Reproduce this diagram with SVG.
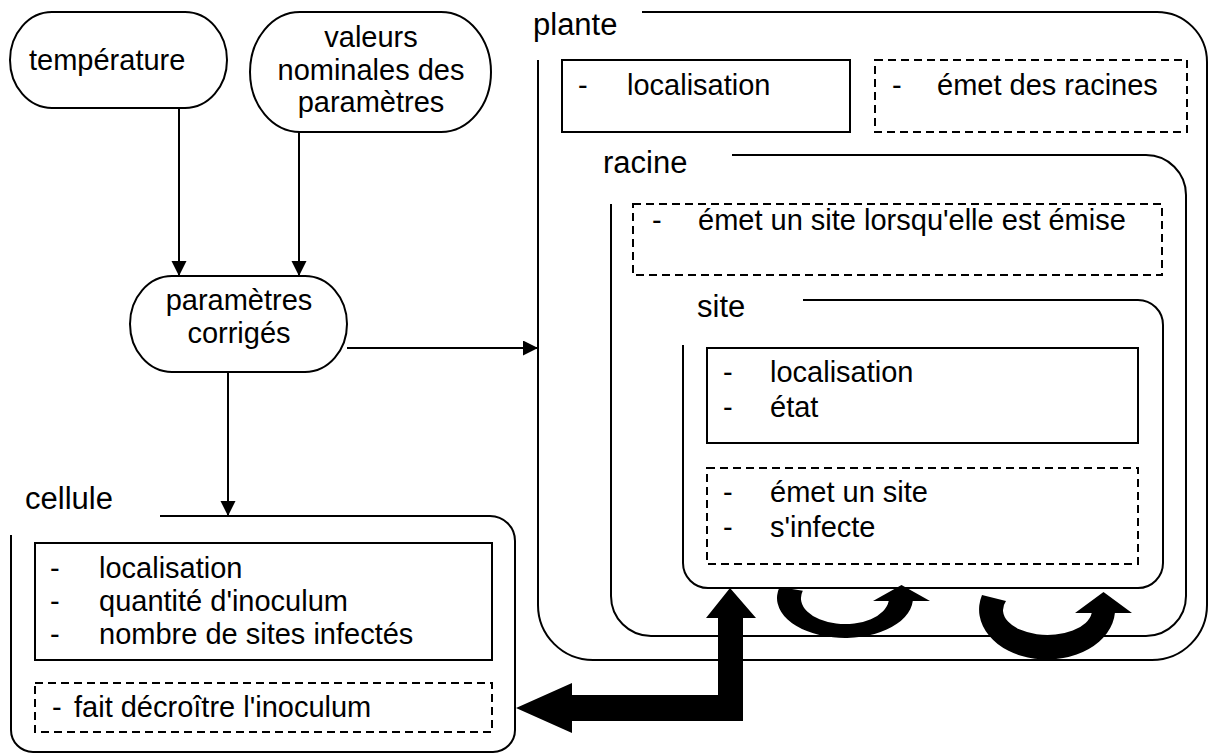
<svg xmlns="http://www.w3.org/2000/svg" width="1209" height="753" viewBox="0 0 1209 753">
<defs>
<marker id="ah" markerUnits="userSpaceOnUse" markerWidth="16" markerHeight="16" refX="15" refY="7.5" orient="auto">
<path d="M0,0 L15,7.5 L0,15 z" fill="#000"/>
</marker>
</defs>
<style>
text{font-family:"Liberation Sans",Arial,sans-serif;fill:#000}
.b{font-size:29px}
.t{font-size:31px}
.pill,.frame,.box{fill:none;stroke:#000;stroke-width:2}
.dash{fill:none;stroke:#000;stroke-width:2;stroke-dasharray:8 5}
.conn{fill:none;stroke:#000;stroke-width:2;marker-end:url(#ah)}
.big{fill:#000;stroke:none}
</style>
<rect width="1209" height="753" fill="#fff"/>

<g id="temperature">
<rect class="pill" x="10" y="12" width="217" height="96" rx="42" ry="48"/>
<text class="b" x="29" y="70">température</text>
</g>

<g id="valeurs">
<rect class="pill" x="250" y="12" width="241" height="120" rx="50" ry="60"/>
<text class="b" x="371" y="47" text-anchor="middle">valeurs</text>
<text class="b" x="371" y="80" text-anchor="middle">nominales des</text>
<text class="b" x="371" y="112" text-anchor="middle">paramètres</text>
</g>

<g id="parametres">
<rect class="pill" x="130" y="276" width="217" height="96" rx="42" ry="48"/>
<text class="b" x="239" y="310" text-anchor="middle">paramètres</text>
<text class="b" x="239" y="343" text-anchor="middle">corrigés</text>
</g>

<g id="plante">
<path class="frame" d="M538,60 L538,605 A55,55 0 0 0 593,660 L1152,660 A55,55 0 0 0 1207,605 L1207,62 A50,50 0 0 0 1157,12 L642,12"/>
<text class="t" x="533" y="35">plante</text>
<rect class="box" x="562" y="60" width="288" height="72"/>
<text class="b" x="578" y="95">-</text>
<text class="b" x="627" y="95">localisation</text>
<rect class="dash" x="875" y="60" width="312" height="72"/>
<text class="b" x="892" y="95">-</text>
<text class="b" x="937" y="95">émet des racines</text>
</g>

<g id="racine">
<path class="frame" d="M611,204 L611,596 A40,40 0 0 0 651,636 L1146,636 A40,40 0 0 0 1186,596 L1186,195 A40,40 0 0 0 1146,155 L732,155"/>
<text class="t" x="603" y="173">racine</text>
<rect class="dash" x="633" y="204" width="529" height="71"/>
<text class="b" x="652" y="230">-</text>
<text class="b" x="698" y="230">émet un site lorsqu'elle est émise</text>
</g>

<g id="site">
<path class="frame" d="M683,345 L683,563 A25,25 0 0 0 708,588 L1138,588 A25,25 0 0 0 1163,563 L1163,325 A25,25 0 0 0 1138,300 L803,300"/>
<text class="t" x="697" y="317">site</text>
<rect class="box" x="707" y="348" width="431" height="95"/>
<text class="b" x="723" y="382">-</text>
<text class="b" x="770" y="382">localisation</text>
<text class="b" x="723" y="417">-</text>
<text class="b" x="770" y="417">état</text>
<rect class="dash" x="707" y="468" width="431" height="96"/>
<text class="b" x="723" y="502">-</text>
<text class="b" x="770" y="502">émet un site</text>
<text class="b" x="723" y="537">-</text>
<text class="b" x="770" y="537">s'infecte</text>
</g>

<g id="cellule">
<path class="frame" d="M11,535 L11,730 A22,22 0 0 0 33,752 L493,752 A22,22 0 0 0 515,730 L515,541 A25,25 0 0 0 490,516 L160,516"/>
<text class="t" x="25" y="509">cellule</text>
<rect class="box" x="35" y="543" width="457" height="117"/>
<text class="b" x="50" y="578">-</text>
<text class="b" x="99" y="578">localisation</text>
<text class="b" x="50" y="611">-</text>
<text class="b" x="99" y="611">quantité d'inoculum</text>
<text class="b" x="50" y="644">-</text>
<text class="b" x="99" y="644">nombre de sites infectés</text>
<rect class="dash" x="35" y="683" width="457" height="49"/>
<text class="b" x="52" y="717">-</text>
<text class="b" x="74" y="717">fait décroître l'inoculum</text>
</g>

<g id="connectors">
<path class="conn" d="M179,108 V276"/>
<path class="conn" d="M299,132 V276"/>
<path class="conn" d="M228,372 V516"/>
<path class="conn" d="M347,348 H538"/>
<path class="big" d="M730,588 L756,618 L743,618 L743,721 L572,721 L572,733 L516,708 L572,683 L572,695 L718,695 L718,618 L706,618 Z"/>
<path class="big" d="M779.6,587 A68,40 0 1 0 912.8,601 L930,601 L901.5,585 L873,601 L888.7,601 A44,26 0 1 1 802.8,590.7 Z"/>
<path class="big" d="M982,595 A68,50 0 1 0 1114.9,613 L1132,613 L1103.5,592 L1075,613 L1091.7,613 A44.5,25 0 1 1 1006,601 Z"/>
</g>
</svg>
